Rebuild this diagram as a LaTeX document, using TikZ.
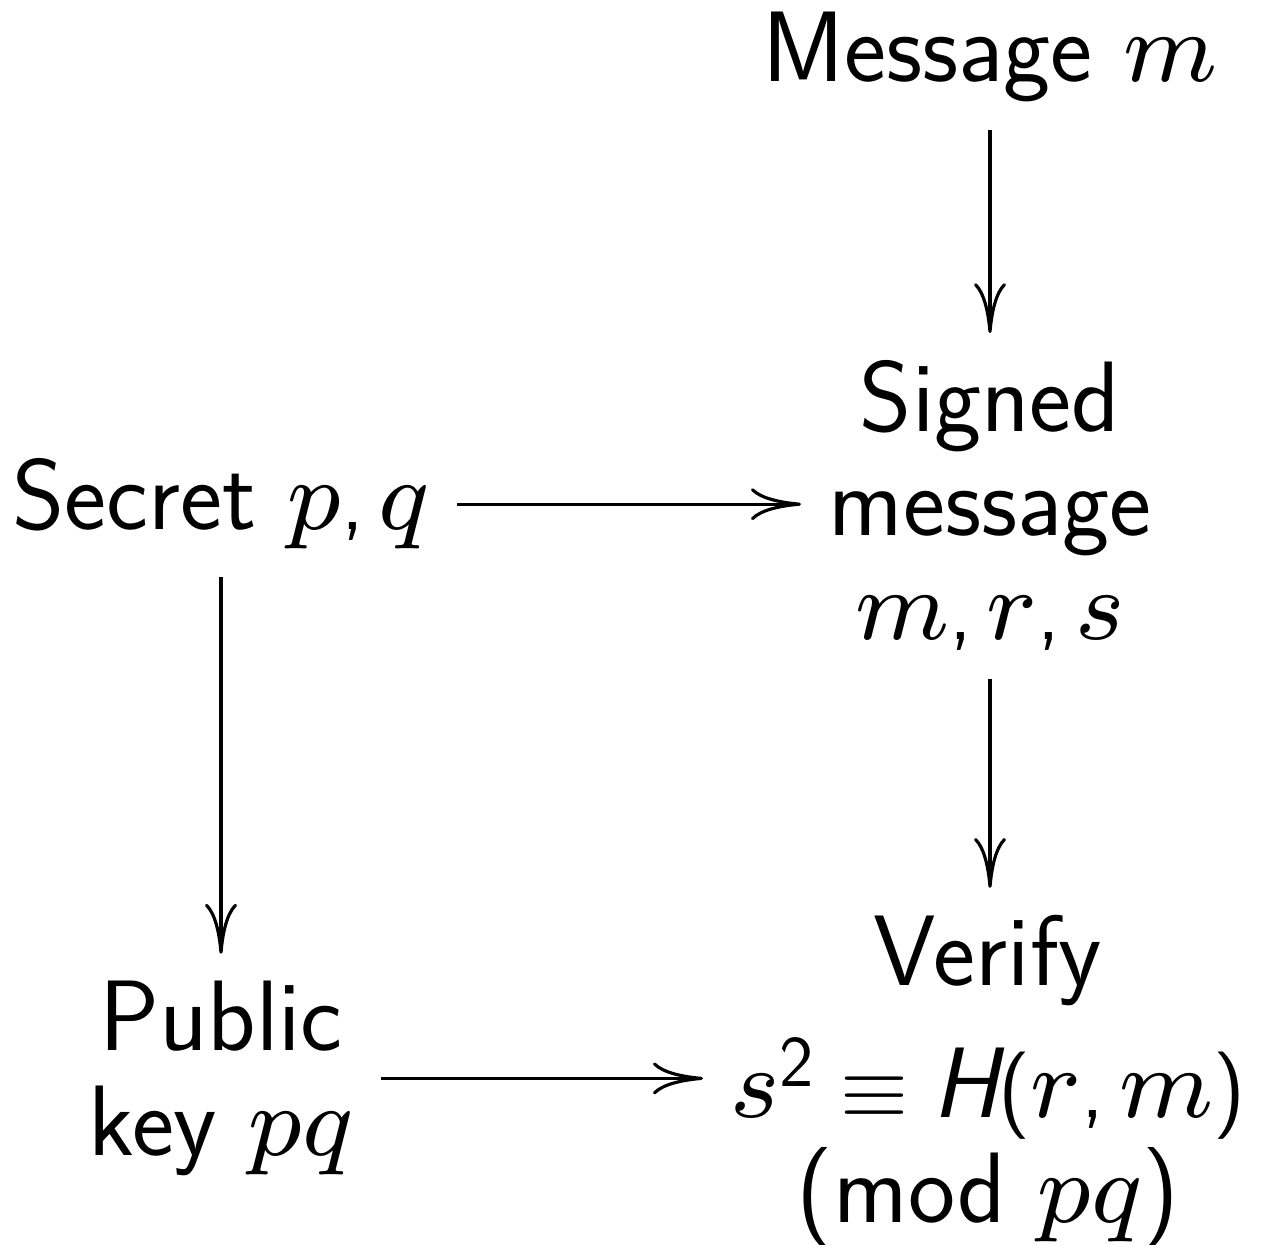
\documentclass[tikz,border=0pt]{standalone}
\usetikzlibrary{arrows.meta,positioning}
\SetSymbolFont{operators}{normal}{OT1}{cmss}{m}{n}
\DeclareFontFamily{OML}{cmmfix}{\skewchar\font127 }
\DeclareFontShape{OML}{cmmfix}{m}{it}{<-> cmmi8}{}
\SetSymbolFont{letters}{normal}{OML}{cmmfix}{m}{it}
\DeclareMathSymbol{,}{\mathpunct}{operators}{"2C}
\tikzset{
  box/.style={
    font=\sffamily\fontsize{28.5}{29.6}\selectfont,
    align=center,
    inner sep=0.27cm
  },
  link/.style={-{To[length=0.5cm,width=0.32cm]}, line width=0.9pt}
}
\begin{document}
\begin{tikzpicture}
  \useasboundingbox (0,0) rectangle (12.61,-12.45);

  % the steps (base is the last line)
  \node[box, anchor=base] (msg) at (9.90,-0.82) {Message $m$};
  \node[box, anchor=base] (signed) at (9.90,-6.40) {Signed\\message\\$m, r, s$};
  \node[box, anchor=base] (secret) at (2.21,-5.30) {Secret $p, q$};
  \node[box, anchor=base] (pub) at (2.21,-11.55) {Public\\key $pq$};
  \node[box, anchor=base] (verify) at (9.88,-12.22)
    {Verify\\[0.28cm]$s^2 \equiv \textit{H}(r, m)$\\(mod $pq$)};

  % the arrows
  \draw[link] (msg.south) -- (msg.south |- signed.north);
  \draw[link] (secret.east) -- (secret.east -| signed.west);
  \draw[link] (secret.south) -- (secret.south |- pub.north);
  \draw[link] (signed.south) -- (signed.south |- verify.north);
  \draw[link] (pub.east) -- (pub.east -| verify.west);
\end{tikzpicture}
\end{document}
